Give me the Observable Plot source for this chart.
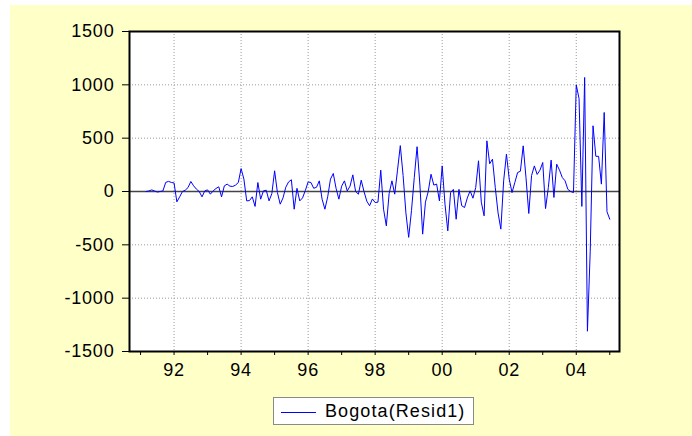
<!DOCTYPE html>
<html>
<head>
<meta charset="utf-8">
<script src="https://cdn.jsdelivr.net/npm/d3@7"></script>
<script src="https://cdn.jsdelivr.net/npm/@observablehq/plot@0.6"></script>
<style>
  html, body { margin: 0; padding: 0; background: #ffffff; width: 692px; height: 436px; overflow: hidden; }
  #bg { position: absolute; left: 10px; top: 5px; width: 682px; height: 431px; background: #ffffc8; }
  #chart { position: absolute; left: 0; top: 0; }
  #legend { position: absolute; left: 273px; top: 397px; width: 199px; height: 26px;
            border: 1px solid #8a8a8a; background: #ffffff;
            font-family: "Liberation Sans", Arial, sans-serif; font-size: 18px; letter-spacing: 1.1px; color: #000; }
  #legend .swatch { position: absolute; left: 7px; top: 14px; width: 35px; height: 1px; background: #0000ff; }
  #legend .label { position: absolute; left: 51px; top: 4px; line-height: 18px; white-space: nowrap; }
</style>
</head>
<body>
<div id="bg"></div>
<div id="chart"></div>
<div id="legend"><div class="swatch"></div><span class="label"></span></div>
<script>
// Series: Bogota residuals, monthly, starting 1991:03
const seriesName = "Bogota(Resid1)";
const startYear = 1991;
const startMonth = 3;
const resid = [
  0, 5, 15, 5, -5, 0, 5, 85, 95, 85,
  80, -97, -50, 0, 12, 37, 94, 53, 22, 0,
  -50, 6, 15, -25, 6, 28, 44, -50, 53, 69,
  50, 47, 60, 84, 215, 116, -88, -85, -50, -140,
  84, -72, 6, 12, -88, -20, 194, -10, -119, -60,
  40, 90, 110, -166, 30, -88, -60, 10, 90, 84,
  30, 40, 100, -72, -166, -50, 116, 169, 30, -72,
  50, 100, 5, 50, 156, 0, -25, 106, 0,
  -90, -134, -70, -103, -100, 200, -166, -322, -20, 100,
  -25, 200, 430, 150, -200, -430, -180, 130, 420, 70,
  -400, -100, 0, 162, 60, 70, -88, 240, -119, -369,
  -10, 20, -260, 20, -134, -150, -60, 6, -63, 37,
  288, -100, -228, 475, 260, 303, 37, -200, -353, 100,
  350, 116, -10, 84, 178, 190, 428, 130, -206, 150,
  240, 160, 200, 272, -160, 37, 294, -56, 256, 200,
  131, 100, 20, 0, -10, 1000, 870, -140, 1069, -1310,
  -560, 616, 330, 330, 69, 741, -190, -260
];
const yTicks = [-1500, -1000, -500, 0, 500, 1000, 1500];
const yGrid = [-1000, -500, 500, 1000];
const xTicks = [1991, 1992, 1993, 1994, 1995, 1996, 1997, 1998, 1999, 2000, 2001, 2002, 2003, 2004, 2005];
const xLabelYears = [1992, 1994, 1996, 1998, 2000, 2002, 2004];
const xDomain = [1990.67, 2005.29];
const yDomain = [-1500, 1500];

const data = resid.map((v, i) => ({ t: startYear + (startMonth - 1 + i) / 12, v }));
const gridStyle = { stroke: "#9a9a9a", strokeOpacity: 1, strokeDasharray: "1,2", strokeWidth: 1 };

const chart = Plot.plot({
  width: 692,
  height: 390,
  marginLeft: 129,
  marginRight: 73,
  marginTop: 31,
  marginBottom: 39,
  x: { domain: xDomain },
  y: { domain: yDomain },
  style: {
    background: "transparent",
    fontFamily: "'Liberation Sans', Arial, sans-serif",
    fontSize: "18px",
    letterSpacing: "0.8px",
    color: "#000"
  },
  marks: [
    Plot.frame({ fill: "#ffffff", stroke: null }),
    Plot.gridY(yGrid, gridStyle),
    Plot.gridX(xLabelYears, gridStyle),
    Plot.ruleY([0], { stroke: "#444", strokeWidth: 1.5 }),
    Plot.line(data, { x: "t", y: "v", stroke: "#0000ff", strokeWidth: 1 }),
    Plot.frame({ stroke: "#000", strokeWidth: 2 }),
    Plot.axisY({ ticks: yTicks, tickSize: 7, tickPadding: 8, tickFormat: d => String(d), label: null, stroke: "#000", fill: "#000" }),
    Plot.axisX({ ticks: xTicks, tickSize: 4, tickPadding: 8, label: null, stroke: "#000", fill: "#000",
      tickFormat: d => (xLabelYears.includes(d) ? String(d % 100).padStart(2, "0") : "") })
  ]
});
document.getElementById("chart").appendChild(chart);
document.querySelector("#legend .label").textContent = seriesName;
</script>
</body>
</html>
